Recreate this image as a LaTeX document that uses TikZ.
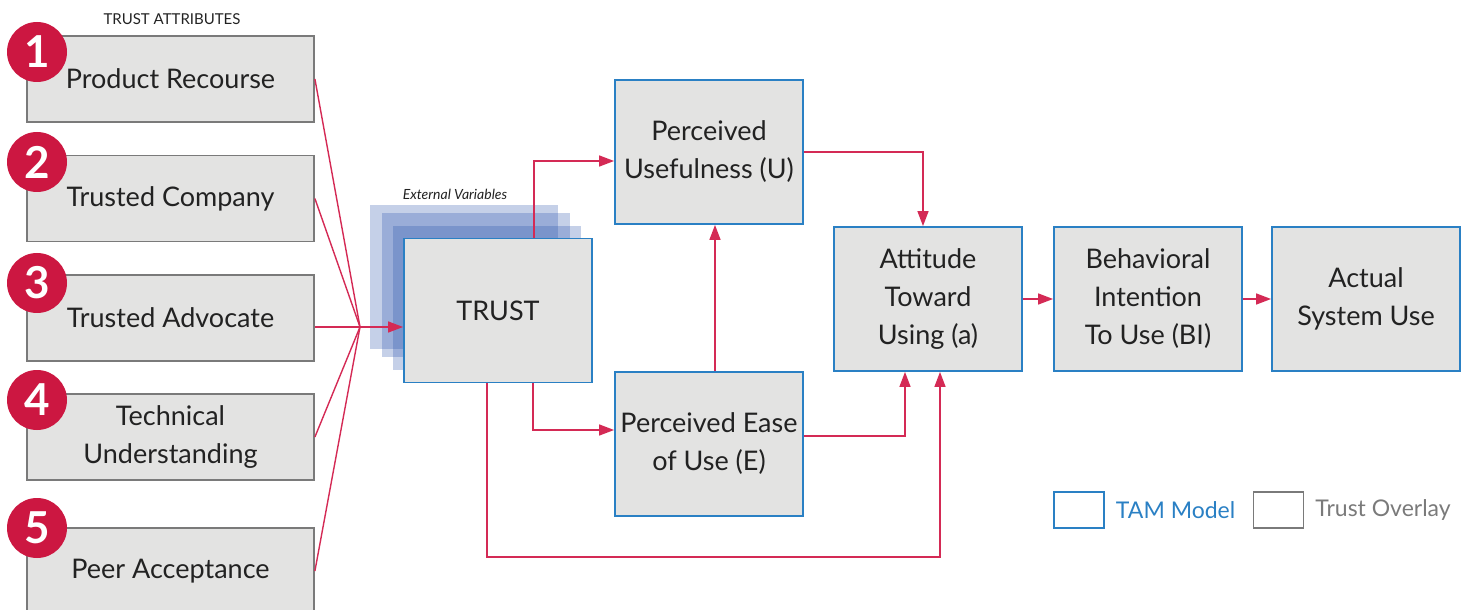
\documentclass[tikz,border=0pt]{standalone}
\usepackage{fontspec}
\setmainfont{Lato}
\usepackage{xcolor}
\usepackage{tikz}
\usetikzlibrary{positioning,arrows.meta}
\definecolor{AttrRed}{HTML}{CC1741}
\definecolor{LinkRed}{HTML}{D42A55}
\definecolor{TamBlue}{HTML}{2A80C4}
\definecolor{BoxGray}{HTML}{E3E3E2}
\definecolor{EdgeGray}{HTML}{7A7A7A}
\definecolor{StackBlue}{HTML}{1E4AA8}
\definecolor{InkGray}{HTML}{222222}

\begin{document}
\begin{tikzpicture}[x=0.5pt,y=-0.5pt,
    attrbox/.style={draw=EdgeGray, line width=0.9pt, fill=BoxGray, minimum width=143.5pt,
      minimum height=43pt, inner sep=0pt, align=center, text=InkGray,
      font=\fontsize{13.5}{19}\selectfont},
    tambox/.style={attrbox, draw=TamBlue, minimum width=94pt, minimum height=72pt},
    badge/.style={circle, fill=AttrRed, minimum size=30pt, inner sep=0pt, text=white,
      font=\fontsize{22}{22}\selectfont\bfseries},
    link/.style={LinkRed, line width=0.7pt},
    arrowlink/.style={link, -{Triangle[length=7.5pt,width=5.5pt]}}]
      \useasboundingbox (0,0) rectangle (1464,610);
      \clip (0,0) rectangle (1464,610);

      % Trust attributes column
      \node[text=InkGray, font=\fontsize{7.5}{9}\selectfont] at (172,19) {TRUST ATTRIBUTES};
      \node[attrbox] (recourse) at (170.5,79) {Product Recourse};
      \node[attrbox] (company) at (170.5,198.5) {Trusted Company};
      \node[attrbox] (advocate) at (170.5,318) {Trusted Advocate};
      \node[attrbox] (technical) at (170.5,437) {Technical\\Understanding};
      \node[attrbox] (peer) at (170.5,571) {Peer Acceptance};
      \node[badge] (one) at (37,52) {1};
      \node[badge] (two) at (37,162) {2};
      \node[badge] (three) at (37,283) {3};
      \node[badge] (four) at (37,400) {4};
      \node[badge] (five) at (37,528) {5};

      % External variables stack
      \foreach \dx/\dy in {0/0,12/8,23/21}
        \fill[StackBlue, fill opacity=0.26] (370+\dx,205+\dy) rectangle ++(188,144);
      \node[text=InkGray, font=\fontsize{7}{8}\selectfont\itshape] at (455,194) {External Variables};
      \node[tambox] (trust) at (498,310.5) {TRUST};

      % TAM model
      \node[tambox] (useful) at (709,152) {Perceived\\Usefulness (U)};
      \node[tambox] (ease) at (709,444) {Perceived Ease\\of Use (E)};
      \node[tambox] (attitude) at (928,299) {Attitude\\Toward\\Using (a)};
      \node[tambox] (intention) at (1148,299) {Behavioral\\Intention\\To Use (BI)};
      \node[tambox] (actual) at (1366,299) {Actual\\System Use};

      % Attributes into trust
      \coordinate (hub) at (360,327);
      \draw[link] (recourse.east) -- (hub);
      \draw[link] (company.east) -- (hub);
      \draw[link] (advocate.east |- hub) -- (hub);
      \draw[link] (technical.east) -- (hub);
      \draw[link] (peer.east) -- (hub);
      \draw[arrowlink] (hub) -- (trust.west |- hub);

      % Connectors
      \draw[arrowlink] ([xshift=18pt]trust.north) |- ([yshift=-4.5pt]useful.west);
      \draw[arrowlink] ([xshift=17.5pt]trust.south) |- ([yshift=7pt]ease.west);
      \draw[arrowlink] ([xshift=3pt]ease.north) -- ([xshift=3pt]useful.south);
      \draw[arrowlink] (useful.east) -| ([xshift=-2.5pt]attitude.north);
      \draw[arrowlink] ([yshift=4pt]ease.east) -| ([xshift=-11.5pt]attitude.south);
      \coordinate (loop) at (487,557);
      \draw[arrowlink] ([xshift=-5.5pt]trust.south) -- (loop) -| ([xshift=6pt]attitude.south);
      \draw[arrowlink] (attitude) -- (intention);
      \draw[arrowlink] (intention) -- (actual);

      % Legend
      \node[draw=TamBlue, line width=0.9pt, minimum width=25pt, minimum height=18pt] (tamkey) at (1079,510) {};
      \node[right=2pt of tamkey, text=TamBlue, font=\fontsize{11.5}{14}\selectfont] (tamlabel) {TAM Model};
      \node[draw=EdgeGray, line width=0.9pt, minimum width=25pt, minimum height=18pt] (trustkey) at (1278.5,510) {};
      \node[right=2pt of trustkey, text=EdgeGray, font=\fontsize{11.5}{14}\selectfont] (trustlabel) {Trust Overlay};
    \end{tikzpicture}
\end{document}
